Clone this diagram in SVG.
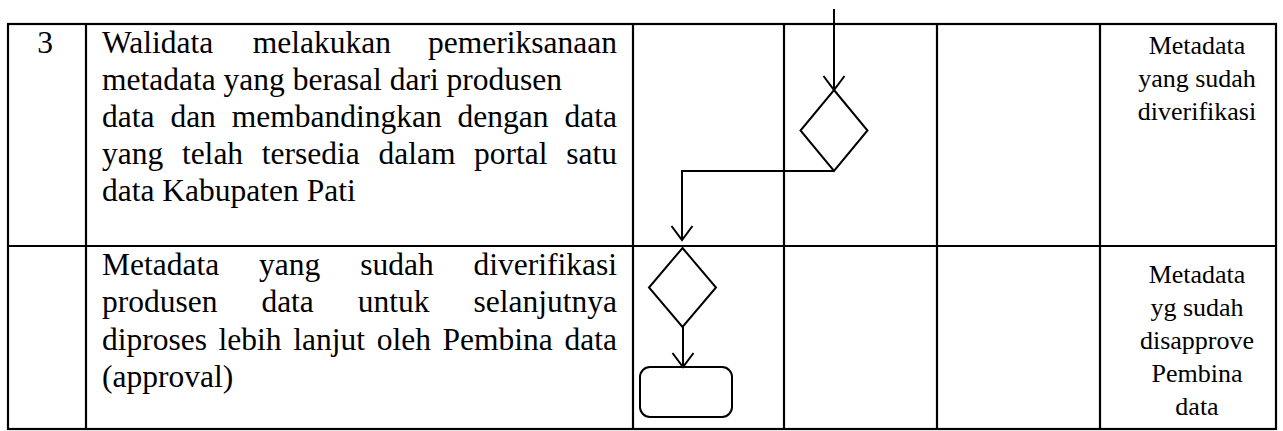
<svg xmlns="http://www.w3.org/2000/svg" width="1283" height="431" viewBox="0 0 1283 431">
<style>
.grid{stroke:#000;stroke-width:2.2;fill:none}
.shape{stroke:#000;stroke-width:2;fill:#fff}
.conn{stroke:#000;stroke-width:2;fill:none}
.t{font-family:"Liberation Serif","Times New Roman",serif;font-size:31.5px;fill:#000}
.r{font-family:"Liberation Serif","Times New Roman",serif;font-size:26px;fill:#000;text-anchor:middle}
</style>
<defs>
<marker id="vee" markerUnits="userSpaceOnUse" viewBox="-16 -12 20 24" refX="0" refY="0" markerWidth="20" markerHeight="24" orient="auto" overflow="visible">
<path d="M-14,-10.5 L0,0 L-14,10.5" fill="none" stroke="#000" stroke-width="2"/>
</marker>
</defs>
<g id="table">
<rect class="grid" x="8" y="24" width="1268" height="405"/>
<line class="grid" x1="8" y1="246" x2="1276" y2="246"/>
<line class="grid" x1="86" y1="24" x2="86" y2="429"/>
<line class="grid" x1="633" y1="24" x2="633" y2="429"/>
<line class="grid" x1="784" y1="24" x2="784" y2="429"/>
<line class="grid" x1="937" y1="24" x2="937" y2="429"/>
<line class="grid" x1="1100" y1="24" x2="1100" y2="429"/>
</g>
<g id="row1-text">
<text class="t" x="45" y="53" text-anchor="middle">3</text>
<text class="t" y="53"><tspan x="102">Walidata</tspan><tspan x="252.8">melakukan</tspan><tspan x="617" text-anchor="end">pemeriksanaan</tspan></text>
<text class="t" x="102" y="90">metadata yang berasal dari produsen</text>
<text class="t" y="127"><tspan x="102">data</tspan><tspan x="170.4">dan</tspan><tspan x="231.8">membandingkan</tspan><tspan x="457.6">dengan</tspan><tspan x="617" text-anchor="end">data</tspan></text>
<text class="t" y="164"><tspan x="102">yang</tspan><tspan x="181.9">telah</tspan><tspan x="261.8">tersedia</tspan><tspan x="378.5">dalam</tspan><tspan x="474.1">portal</tspan><tspan x="617" text-anchor="end">satu</tspan></text>
<text class="t" x="102" y="201">data Kabupaten Pati</text>
</g>
<g id="row2-text">
<text class="t" y="275"><tspan x="102">Metadata</tspan><tspan x="259.1">yang</tspan><tspan x="360.2">sudah</tspan><tspan x="617" text-anchor="end">diverifikasi</tspan></text>
<text class="t" y="312"><tspan x="102">produsen</tspan><tspan x="261.4">data</tspan><tspan x="357.8">untuk</tspan><tspan x="617" text-anchor="end">selanjutnya</tspan></text>
<text class="t" y="350"><tspan x="102">diproses</tspan><tspan x="218.6">lebih</tspan><tspan x="293.3">lanjut</tspan><tspan x="376.7">oleh</tspan><tspan x="442.6">Pembina</tspan><tspan x="617" text-anchor="end">data</tspan></text>
<text class="t" x="102" y="387">(approval)</text>
</g>
<g id="output1">
<text class="r" x="1197" y="54">Metadata</text>
<text class="r" x="1197" y="87">yang sudah</text>
<text class="r" x="1197" y="120">diverifikasi</text>
</g>
<g id="output2">
<text class="r" x="1197" y="283">Metadata</text>
<text class="r" x="1197" y="316">yg sudah</text>
<text class="r" x="1197" y="349">disapprove</text>
<text class="r" x="1197" y="382">Pembina</text>
<text class="r" x="1197" y="415">data</text>
</g>
<g id="decision1">
<polygon class="shape" points="834,90 867.5,130.5 834,171 800.5,130.5"/>
</g>
<g id="decision2">
<polygon class="shape" points="682.5,248 716,287.5 682.5,327 649,287.5"/>
</g>
<g id="activity">
<rect class="shape" x="640" y="367" width="92" height="50" rx="10" ry="10"/>
</g>
<g id="connectors">
<line class="conn" x1="834" y1="9" x2="834" y2="90" marker-end="url(#vee)"/>
<polyline class="conn" points="834,171 682,171 682,240" marker-end="url(#vee)"/>
<line class="conn" x1="683" y1="327" x2="683" y2="367" marker-end="url(#vee)"/>
</g>
</svg>
